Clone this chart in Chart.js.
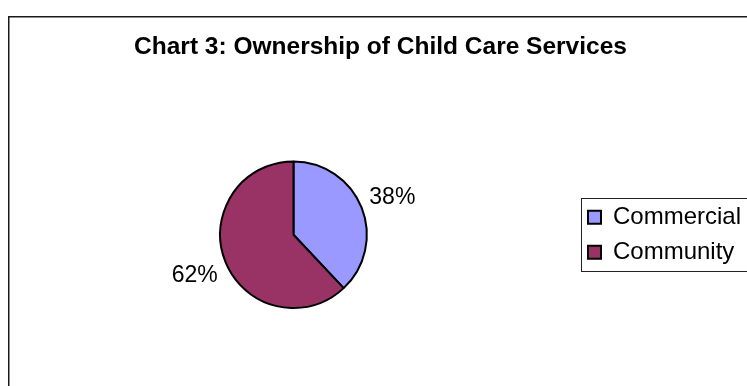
<!DOCTYPE html>
<html>
<head>
<meta charset="utf-8">
<title>Chart 3: Ownership of Child Care Services</title>
<script src="https://cdn.jsdelivr.net/npm/chart.js@4/dist/chart.umd.min.js"></script>
<style>
    html, body { margin: 0; padding: 0; background: #fff; overflow: hidden; }
    #wrap { position: absolute; left: 0; top: 0; width: 774px; height: 400px; }
</style>
</head>
<body>
<div id="wrap"><canvas id="myChart" width="774" height="400"></canvas></div>
<script>
// chart data
var chartTitle = 'Chart 3: Ownership of Child Care Services';
var ownershipTypes = ['Commercial', 'Community'];
var ownershipShares = [38, 62];
var sliceColors = ['#9999FF', '#993366'];

var fontName = '"Liberation Sans", Arial, sans-serif';

// outer frame of the chart, like the spreadsheet chart border
var framePlugin = {
    id: 'frame',
    beforeDraw: function(chart) {
        var ctx = chart.ctx;
        ctx.save();
        ctx.strokeStyle = '#1a1a1a';
        ctx.lineWidth = 1.5;
        ctx.strokeRect(8.75, 16.75, 751, 420);
        ctx.restore();
    }
};

// box round the legend, open on the right like in the original
var legendBoxPlugin = {
    id: 'legendBox',
    afterDraw: function(chart) {
        var legend = chart.legend;
        if (!legend || !legend.legendHitBoxes.length) return;
        var boxes = legend.legendHitBoxes;
        var first = boxes[0];
        var last = boxes[boxes.length - 1];
        var left = first.left - 7;
        var top = first.top - 7;
        var bottom = last.top + last.height + 7;
        var ctx = chart.ctx;
        ctx.save();
        ctx.strokeStyle = '#222';
        ctx.lineWidth = 1;
        ctx.strokeRect(Math.round(left) + 0.5, Math.round(top) + 0.5, 300, Math.round(bottom - top));
        ctx.restore();
    }
};

// percent labels outside each slice
var percentPlugin = {
    id: 'percentLabels',
    afterDatasetsDraw: function(chart) {
        var ctx = chart.ctx;
        var meta = chart.getDatasetMeta(0);
        var total = ownershipShares.reduce(function(a, b) { return a + b; }, 0);
        ctx.save();
        ctx.font = '23px ' + fontName;
        ctx.fillStyle = '#000';
        ctx.textAlign = 'center';
        ctx.textBaseline = 'middle';
        meta.data.forEach(function(arc, i) {
            var p = arc.getProps(['x', 'y', 'startAngle', 'endAngle', 'outerRadius'], true);
            var mid = (p.startAngle + p.endAngle) / 2;
            var dist = p.outerRadius + 33;
            var text = Math.round(ownershipShares[i] / total * 100) + '%';
            ctx.fillText(text, p.x + Math.cos(mid) * dist, p.y + Math.sin(mid) * dist + 2);
        });
        ctx.restore();
    }
};

var ctx = document.getElementById('myChart').getContext('2d');
var myChart = new Chart(ctx, {
    type: 'pie',
    data: {
        labels: ownershipTypes,
        datasets: [{
            data: ownershipShares,
            backgroundColor: sliceColors,
            borderColor: '#000',
            borderWidth: 2
        }]
    },
    options: {
        responsive: false,
        animation: false,
        devicePixelRatio: 1,
        layout: {
            padding: { top: 17, left: 10, right: 23, bottom: 91 }
        },
        plugins: {
            title: {
                display: true,
                text: chartTitle,
                color: '#000',
                font: { family: fontName, size: 24.5, weight: 'bold' },
                padding: { top: 16, bottom: 98 }
            },
            legend: {
                position: 'right',
                fullSize: false,
                labels: {
                    color: '#000',
                    font: { family: fontName, size: 24 },
                    boxWidth: 13,
                    boxHeight: 13,
                    padding: 11
                }
            },
            tooltip: { enabled: false }
        }
    },
    plugins: [framePlugin, legendBoxPlugin, percentPlugin]
});
</script>
</body>
</html>
